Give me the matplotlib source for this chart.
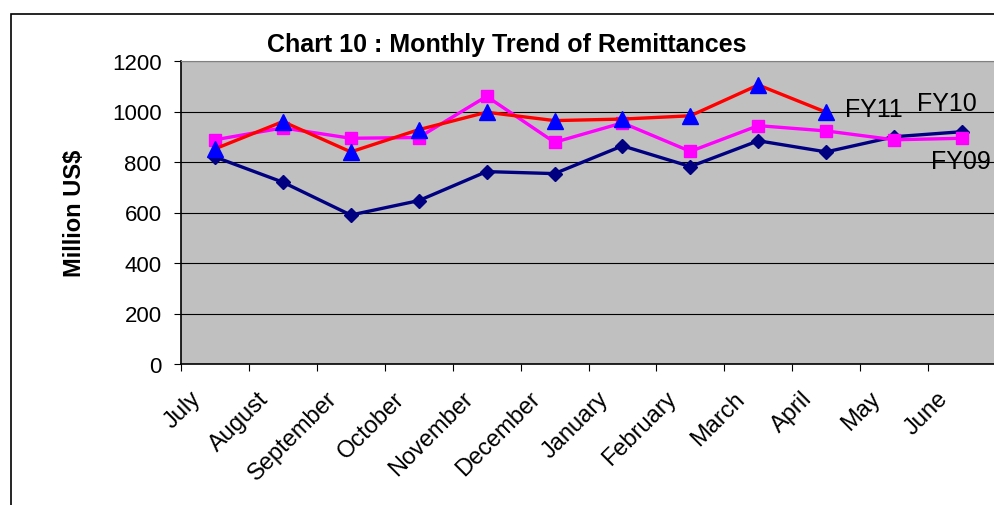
import matplotlib
matplotlib.use('Agg')
import matplotlib.pyplot as plt
from matplotlib.patches import Rectangle
import matplotlib.transforms as mtransforms
import numpy as np

plt.rcParams['font.family'] = ['Liberation Sans', 'DejaVu Sans']

months = ['July', 'August', 'September', 'October', 'November', 'December',
          'January', 'February', 'March', 'April', 'May', 'June']
fy09 = [820, 720, 590, 647, 762, 754, 864, 782, 884, 840, 900, 920]
fy10 = [888, 935, 894, 897, 1060, 878, 955, 842, 944, 923, 888, 894]
fy11 = [852, 960, 840, 928, 997, 964, 970, 983, 1105, 997]
yticks = [0, 200, 400, 600, 800, 1000, 1200]

fig = plt.figure(figsize=(9.94, 5.06), dpi=100)
ax = fig.add_axes([181/994, 141/506, 815/994, 303/506])
ax.set_facecolor('#C0C0C0')

x = np.arange(len(months))
ax.plot(x, fy09, color='#000080', lw=2.4, marker='D', ms=7, zorder=3)
ax.plot(x, fy10, color='#FF00FF', lw=2.4, marker='s', ms=8, zorder=3)
ax.plot(x[:len(fy11)], fy11, color='#FF0000', lw=2.4, marker='^', ms=11,
        mfc='#0000FF', mec='#0000FF', zorder=4)

ax.text(9.28, 1010, 'FY11', fontsize=18, va='center', ha='left')
ax.text(10.33, 1034, 'FY10', fontsize=18, va='center', ha='left')
ax.text(10.54, 804, 'FY09', fontsize=18, va='center', ha='left')

ax.set_xlim(-0.5, 11.5)
ax.set_ylim(0, 1200)
ax.set_yticks(yticks)
ax.set_yticklabels([str(v) for v in yticks], fontsize=16)
ax.yaxis.grid(True, color='black', lw=0.8)
ax.set_axisbelow(True)

# ticks between categories, labels at the category centres
ax.set_xticks(np.arange(-0.5, 12, 1))
ax.set_xticklabels([])
ax.tick_params(axis='x', which='major', length=5, direction='out')
ax.tick_params(axis='y', length=5, direction='out', pad=9)
shift = mtransforms.ScaledTranslation(-25/100, -23/100, fig.dpi_scale_trans)
for i, m in enumerate(months):
    ax.text(i, 0, m, transform=ax.get_xaxis_transform() + shift,
            rotation=45, ha='right', va='top', rotation_mode='anchor',
            fontsize=17)

for s in ['left', 'bottom']:
    ax.spines[s].set_color('black')
    ax.spines[s].set_linewidth(1.2)
ax.spines['top'].set_color('#808080')
ax.spines['right'].set_visible(False)

ax.set_ylabel('Million US$', fontsize=17, fontweight='bold', labelpad=19)
fig.text(507/994, 1 - 45/506, 'Chart 10 : Monthly Trend of Remittances',
         fontsize=18, fontweight='bold', ha='center', va='center')

# outer chart border
fig.patches.append(Rectangle((11/994, -0.05), 1.1, 1 - 15/506 + 0.05,
                             transform=fig.transFigure, fill=False,
                             edgecolor='black', lw=1.2))

fig.savefig('out.png', dpi=100)
